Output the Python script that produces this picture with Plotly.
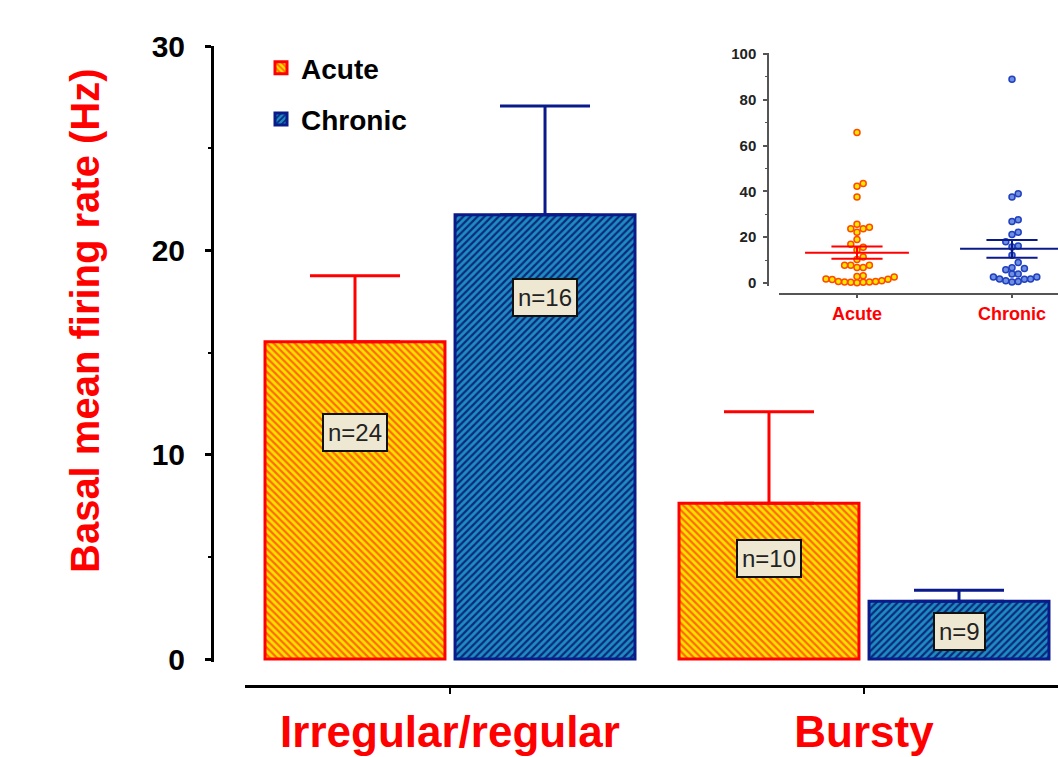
import numpy as np
import plotly.graph_objects as go

# ---------------- data ----------------
categories = ["Irregular/regular", "Bursty"]
acute_mean = [15.53, 7.62]
acute_sem = [3.23, 4.48]
chronic_mean = [21.74, 2.83]
chronic_sem = [5.32, 0.54]
acute_n = [24, 10]
chronic_n = [16, 9]

inset_groups = ["Acute", "Chronic"]
acute_rates = [65.7, 43.5, 42.2, 37.5, 25.7, 23.7, 22.1, 23.7, 24.3, 19.0, 16.9, 15.6,
               14.4, 11.3, 10.2, 7.7, 7.7, 6.8, 6.8, 7.7, 3.1, 2.8,
               1.7, 1.5, 0.6, 0.4, 0.3, 0.1, 0.3, 0.4, 0.6, 1.0, 1.6, 2.6]
chronic_rates = [89.0, 39.0, 37.6, 26.9, 27.6, 22.2, 21.2, 18.0, 15.7, 16.1, 12.1, 8.9,
                 6.3, 6.7, 5.8, 3.9, 3.9, 2.6, 1.7, 1.0, 0.4, 0.6, 1.6, 1.7, 2.6]

# ---------------- style ----------------
W, H = 1058, 757
RED = "#FF0000"
NAVY = "#0A1A8A"
FONT = "Liberation Sans, Arial, sans-serif"


def px_x(p):
    return p / W


def px_y(p):
    return 1 - p / H


def swarm(values, step, thresh):
    values = np.asarray(values, dtype=float)
    order = np.argsort(values, kind="stable")
    placed = {}
    offs = np.zeros(len(values))
    for idx in order:
        v = values[idx]
        k = 0
        while True:
            slot = 0 if k == 0 else ((k + 1) // 2 if k % 2 == 1 else -(k // 2))
            if all(abs(v - u) >= thresh for u in placed.get(slot, [])):
                break
            k += 1
        placed.setdefault(slot, []).append(v)
        offs[idx] = slot * step
    return offs


fig = go.Figure()

fig.add_trace(go.Bar(
    name="Acute", x=categories, y=acute_mean, legendgroup="a",
    marker=dict(color="#FFE000", line=dict(color=RED, width=3),
                pattern=dict(shape="\\", fgcolor="#FF6A00", bgcolor="#FFE000",
                             size=5, solidity=0.45, fillmode="replace")),
    error_y=dict(type="data", symmetric=False, array=acute_sem, arrayminus=[0] * len(acute_sem),
                 color=RED, thickness=3, width=45),
    cliponaxis=False,
))
fig.add_trace(go.Bar(
    name="Chronic", x=categories, y=chronic_mean, legendgroup="c",
    marker=dict(color="#1E8CC4", line=dict(color=NAVY, width=3),
                pattern=dict(shape="/", fgcolor="#0A2A78", bgcolor="#1E8CC4",
                             size=5, solidity=0.45, fillmode="replace")),
    error_y=dict(type="data", symmetric=False, array=chronic_sem, arrayminus=[0] * len(chronic_sem),
                 color=NAVY, thickness=3, width=45),
    cliponaxis=False,
))

# n labels
n_label_y_acute = [11.1, 4.9]
n_label_y_chronic = [17.7, 1.37]
annotations = []
for cat, n, yv in zip(categories, acute_n, n_label_y_acute):
    annotations.append(dict(x=cat, y=yv, xref="x", yref="y", text=f"n={n}", showarrow=False,
                            xshift=-95, font=dict(family=FONT, size=24, color="#222222"),
                            bgcolor="#EEE8D3", bordercolor="#111111", borderwidth=2, borderpad=4))
for cat, n, yv in zip(categories, chronic_n, n_label_y_chronic):
    annotations.append(dict(x=cat, y=yv, xref="x", yref="y", text=f"n={n}", showarrow=False,
                            xshift=95, font=dict(family=FONT, size=24, color="#222222"),
                            bgcolor="#EEE8D3", bordercolor="#111111", borderwidth=2, borderpad=4))

annotations.append(dict(x=px_x(61), y=px_y(321), xref="paper", yref="paper",
                        text="Basal mean firing rate (Hz)", textangle=-90, showarrow=False,
                        font=dict(family=FONT, size=40, color=RED, weight="bold")))

# ---------------- inset ----------------
step = 6.2 / 155.0
thresh = 2.6
inset_styles = [
    dict(color="#FFE800", line=dict(color="#FF4A00", width=1.5)),
    dict(color="#6F8FE0", line=dict(color="#2040C0", width=1.5)),
]
line_colors = [RED, NAVY]
for i, (g, rates) in enumerate(zip(inset_groups, [acute_rates, chronic_rates])):
    offs = swarm(rates, step, thresh)
    fig.add_trace(go.Scatter(x=i + offs, y=rates, mode="markers", xaxis="x2", yaxis="y2",
                             marker=dict(size=6, **inset_styles[i]), showlegend=False,
                             cliponaxis=False, hoverinfo="y"))
for i, rates in enumerate([acute_rates, chronic_rates]):
    r = np.asarray(rates)
    m = r.mean()
    s = r.std(ddof=1) / np.sqrt(len(r))
    hw, sw = 0.335, 0.165
    xs = [i - hw, i + hw, None, i - sw, i + sw, None, i - sw, i + sw, None, i, i]
    ys = [m, m, None, m + s, m + s, None, m - s, m - s, None, m - s, m + s]
    fig.add_trace(go.Scatter(x=xs, y=ys, mode="lines", xaxis="x2", yaxis="y2",
                             line=dict(color=line_colors[i], width=2), showlegend=False,
                             hoverinfo="skip"))

fig.update_layout(
    template="none",
    width=W, height=H,
    margin=dict(l=0, r=0, t=0, b=0, pad=0, autoexpand=False),
    paper_bgcolor="white", plot_bgcolor="rgba(0,0,0,0)",
    barmode="group", bargap=0.082, bargroupgap=0.053,
    showlegend=True,
    legend=dict(x=px_x(261), y=px_y(43), xanchor="left", yanchor="top",
                font=dict(family=FONT, size=28, color="black", weight="bold"),
                tracegroupgap=12, bgcolor="rgba(0,0,0,0)"),
    xaxis=dict(domain=[px_x(245), 1.0], anchor="free", position=px_y(686), automargin=False,
               range=[-0.4952, 1.4686], showgrid=False, zeroline=False,
               showline=True, linecolor="black", linewidth=3,
               ticks="outside", ticklen=6, tickwidth=2, tickcolor="black",
               tickfont=dict(family=FONT, size=44, color=RED, weight="bold"),
               ticklabelstandoff=0),
    yaxis=dict(domain=[px_y(661.5), px_y(46)], anchor="free", position=px_x(212), automargin=False,
               range=[-0.12, 30], showgrid=False, zeroline=False,
               showline=True, linecolor="black", linewidth=3,
               tickvals=[0, 10, 20, 30], ticks="outside", ticklen=6, tickwidth=3,
               tickcolor="black",
               minor=dict(ticks="outside", ticklen=3, tickwidth=2, tickcolor="black",
                          tickvals=[5, 15, 25]),
               tickfont=dict(family=FONT, size=30, color="black", weight="bold"),
               ticklabelstandoff=14),
    xaxis2=dict(domain=[px_x(779), 1.0], anchor="free", position=px_y(294), automargin=False,
                range=[-0.5032, 1.2968], showgrid=False, zeroline=False,
                showline=True, linecolor="#555555", linewidth=2,
                tickvals=[0, 1], ticktext=inset_groups,
                ticks="outside", ticklen=3, tickwidth=1.5, tickcolor="#555555",
                tickfont=dict(family=FONT, size=18, color=RED, weight="bold"),
                ticklabelstandoff=0),
    yaxis2=dict(domain=[px_y(286.4), px_y(52.9)], anchor="free", position=px_x(768), automargin=False,
                range=[-1.5, 100.5], showgrid=False, zeroline=False,
                showline=True, linecolor="#555555", linewidth=1.5,
                tickvals=[0, 20, 40, 60, 80, 100], ticks="outside", ticklen=4,
                tickwidth=1.5, tickcolor="#555555",
                minor=dict(ticks="outside", ticklen=2, tickwidth=1, tickcolor="#555555",
                           tickvals=[10, 30, 50, 70, 90]),
                tickfont=dict(family=FONT, size=15, color="#222222", weight="bold"),
                ticklabelstandoff=4),
    annotations=annotations,
)

fig.write_html("out.html", config={"displayModeBar": False},
               post_script="document.body.style.margin='0px';")
